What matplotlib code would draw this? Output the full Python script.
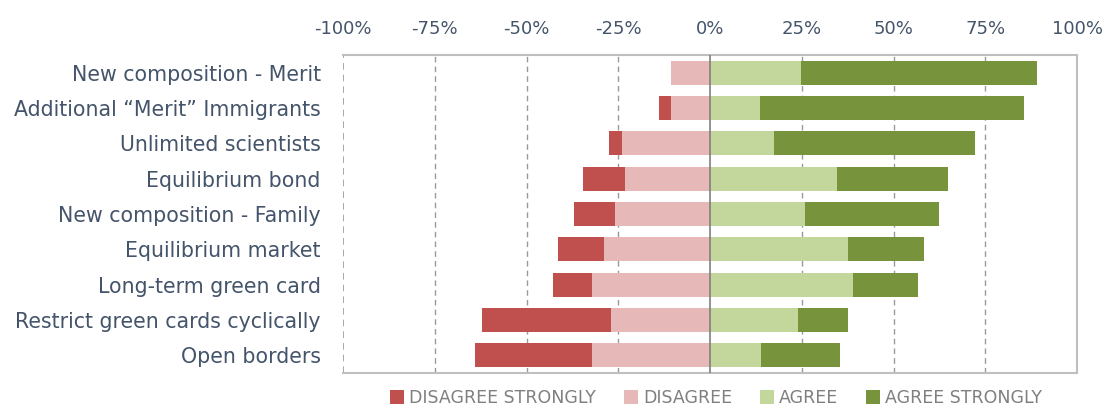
import matplotlib.pyplot as plt
import numpy as np

categories = ["New composition - Merit", "Additional \u201cMerit\u201d Immigrants",
              "Unlimited scientists", "Equilibrium bond", "New composition - Family",
              "Equilibrium market", "Long-term green card",
              "Restrict green cards cyclically", "Open borders"]
disagree_strongly = [0.0, 3.3, 3.3, 11.6, 11.2, 12.5, 10.7, 35.2, 31.9]
disagree = [10.6, 10.6, 24.1, 23.1, 25.9, 28.9, 32.2, 27.0, 32.2]
agree = [24.9, 13.5, 17.4, 34.7, 26.0, 37.6, 39.0, 24.1, 13.9]
agree_strongly = [64.1, 72.1, 54.8, 30.2, 36.5, 20.6, 17.7, 13.5, 21.6]
ticks = [-100, -75, -50, -25, 0, 25, 50, 75, 100]

col_ds = "#c0504d"
col_d = "#e6b9b8"
col_a = "#c3d69b"
col_as = "#77933c"
text_col = "#44546a"

fig = plt.figure(figsize=(11.05, 4.08), dpi=100)
ax = fig.add_axes([343 / 1105, 1 - 373 / 408, 734 / 1105, 318 / 408])

y = np.arange(len(categories))
ds = np.array(disagree_strongly)
d = np.array(disagree)
a = np.array(agree)
s = np.array(agree_strongly)
h = 0.68

ax.barh(y, -ds, left=-d, height=h, color=col_ds, label="DISAGREE STRONGLY", zorder=3)
ax.barh(y, -d, height=h, color=col_d, label="DISAGREE", zorder=3)
ax.barh(y, a, height=h, color=col_a, label="AGREE", zorder=3)
ax.barh(y, s, left=a, height=h, color=col_as, label="AGREE STRONGLY", zorder=3)

ax.set_xlim(-100, 100)
ax.set_ylim(len(categories) - 0.5, -0.5)
ax.set_xticks(ticks)
ax.set_xticklabels([f"{t}%" for t in ticks], color=text_col, fontsize=13)
ax.xaxis.tick_top()
ax.tick_params(axis="x", length=0, pad=12)
ax.tick_params(axis="y", length=0, pad=16)
ax.set_yticks(y)
ax.set_yticklabels(categories, color=text_col, fontsize=14.8)

for t in ticks:
    if t == 0:
        ax.axvline(0, color="#7f7f7f", lw=1.2, zorder=4)
    elif abs(t) != 100:
        ax.axvline(t, color="#999999", lw=1, ls=(0, (4, 3)), zorder=1)
ax.axvline(-100, color="#999999", lw=1.2, ls=(0, (4, 3)), zorder=1)

for side in ["top", "right", "bottom"]:
    ax.spines[side].set_color("#bfbfbf")
    ax.spines[side].set_linewidth(1.5)
ax.spines["left"].set_visible(False)

leg = fig.legend(loc="center", bbox_to_anchor=(716 / 1105, 1 - 398 / 408), ncol=4,
                 frameon=False, fontsize=12.5, handlelength=0.8, handleheight=0.8,
                 handletextpad=0.3, columnspacing=1.6)
for txt in leg.get_texts():
    txt.set_color("#7f7f7f")

fig.savefig("out.png", dpi=100)
